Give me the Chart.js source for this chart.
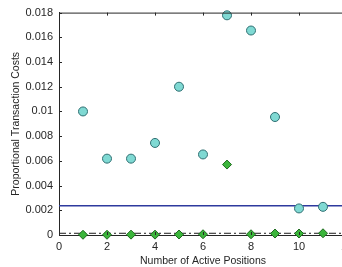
<!DOCTYPE html>
<html>
<head>
<meta charset="utf-8">
<script src="https://cdn.jsdelivr.net/npm/chart.js@4/dist/chart.umd.min.js"></script>
<style>
  html, body { margin: 0; padding: 0; background: #fff; overflow: hidden; width: 342px; height: 267px; }
  canvas { display: block; }
</style>
</head>
<body>
<canvas id="c" width="400" height="267" style="width:400px;height:267px"></canvas>
<script>
// Data
const positions = [1, 2, 3, 4, 5, 6, 7, 8, 9, 10, 11];
const circleCosts = [0.0100, 0.00618, 0.00618, 0.00745, 0.0120, 0.00652, 0.01778, 0.01655, 0.00955, 0.00215, 0.00228];
const diamondCosts = [0.00002, 0.00002, 0.00003, 0.00003, 0.00004, 0.00006, 0.0057, 0.00006, 0.00012, 0.00012, 0.00014];
const blueLevel = 0.00237;
const dashLevel = 0.00014;
const lineXs = [0, 12];
const xTicks = [0, 2, 4, 6, 8, 10, 12];
const yTickLabels = ['0', '0.002', '0.004', '0.006', '0.008', '0.01', '0.012', '0.014', '0.016', '0.018'];

const FONT = 'Liberation Sans, Arial, sans-serif';

const boxPlugin = {
  id: 'boxTicks',
  afterDraw(chart) {
    const { ctx, chartArea: a, scales } = chart;
    ctx.save();
    ctx.strokeStyle = '#262626';
    ctx.lineWidth = 1;
    ctx.beginPath();
    // top border
    ctx.moveTo(a.left, a.top + 0.5);
    ctx.lineTo(a.right, a.top + 0.5);
    // inner ticks on x (bottom and top)
    scales.x.ticks.forEach(t => {
      const px = Math.round(scales.x.getPixelForValue(t.value)) + 0.5;
      ctx.moveTo(px, a.bottom);
      ctx.lineTo(px, a.bottom - 3);
      ctx.moveTo(px, a.top);
      ctx.lineTo(px, a.top + 3);
    });
    // inner ticks on y (left)
    scales.y.ticks.forEach(t => {
      const py = Math.round(scales.y.getPixelForValue(t.value)) + 0.5;
      ctx.moveTo(a.left, py);
      ctx.lineTo(a.left + 3, py);
    });
    ctx.stroke();
    ctx.restore();
  }
};

new Chart(document.getElementById('c'), {
  type: 'scatter',
  data: {
    datasets: [
      {
        type: 'line',
        data: lineXs.map(x => ({ x, y: dashLevel })),
        borderColor: '#1a1a1a',
        borderWidth: 1,
        borderDash: [7, 3, 2, 3],
        pointRadius: 0,
        clip: false,
        order: 4
      },
      {
        type: 'line',
        data: lineXs.map(x => ({ x, y: blueLevel })),
        borderColor: '#2e3a9e',
        borderWidth: 1.5,
        pointRadius: 0,
        order: 3
      },
      {
        data: positions.map((x, i) => ({ x, y: circleCosts[i] })),
        pointStyle: 'circle',
        pointRadius: 4.5,
        backgroundColor: '#7fd9d3',
        borderColor: '#2f6f72',
        borderWidth: 1,
        clip: false,
        order: 2
      },
      {
        data: positions.map((x, i) => ({ x, y: diamondCosts[i] })),
        pointStyle: 'rectRot',
        pointRadius: 4.5,
        backgroundColor: '#3bb53b',
        borderColor: '#1f6a1f',
        borderWidth: 1,
        clip: false,
        order: 1
      }
    ]
  },
  options: {
    responsive: false,
    animation: false,
    events: [],
    layout: { padding: { left: 0, right: 53, top: 11, bottom: 0 } },
    plugins: { legend: { display: false }, tooltip: { enabled: false } },
    scales: {
      x: {
        type: 'linear',
        min: 0,
        max: 12,
        afterBuildTicks(scale) { scale.ticks = xTicks.map(v => ({ value: v })); },
        ticks: {
          font: { family: FONT, size: 11 },
          color: '#262626',
          padding: 5,
          maxRotation: 0,
          callback: v => String(v)
        },
        grid: { display: true, drawOnChartArea: false, drawTicks: false, color: '#262626' },
        border: { display: true, color: '#262626', width: 1 },
        title: {
          display: true,
          text: 'Number of Active Positions',
          font: { family: FONT, size: 10.5 },
          color: '#262626',
          padding: { top: 0, bottom: 0 }
        },
        afterFit(scale) { scale.height = 32; }
      },
      y: {
        type: 'linear',
        min: 0,
        max: 0.018,
        afterBuildTicks(scale) { scale.ticks = yTickLabels.map(s => ({ value: parseFloat(s) })); },
        ticks: {
          font: { family: FONT, size: 11 },
          color: '#262626',
          padding: 6,
          callback: (v, i) => yTickLabels[i]
        },
        grid: { display: true, drawOnChartArea: false, drawTicks: false, color: '#262626' },
        border: { display: true, color: '#262626', width: 1 },
        title: {
          display: true,
          text: 'Proportional Transaction Costs',
          font: { family: FONT, size: 10.5 },
          color: '#262626',
          padding: { top: 10, bottom: 0 }
        },
        afterFit(scale) { scale.width = 59; }
      }
    }
  },
  plugins: [boxPlugin]
});
</script>
</body>
</html>
